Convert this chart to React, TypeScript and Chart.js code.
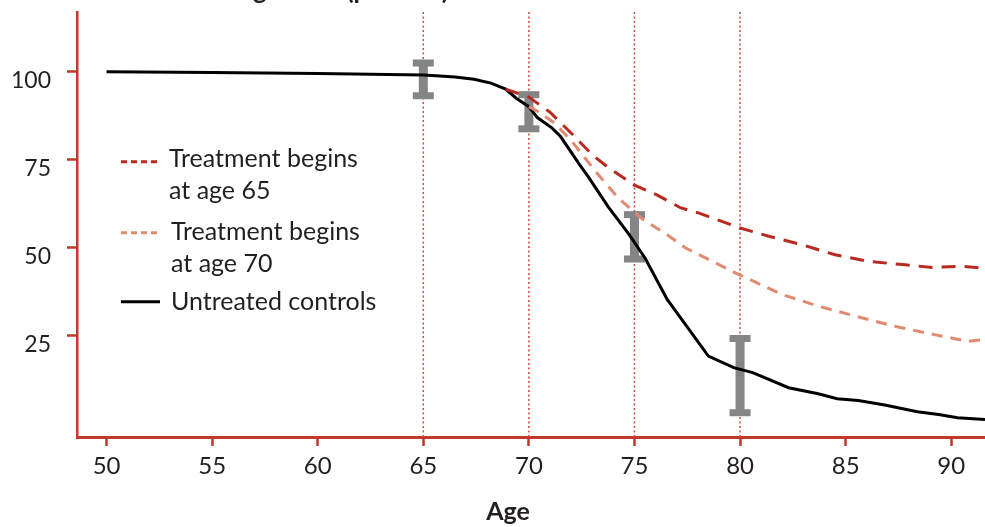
import { useEffect, useRef } from "react";
import { Chart, registerables } from "chart.js";

Chart.register(...registerables);

// ---- data ----
const untreatedAges = [50, 55, 60, 65, 65.6, 66.5, 67.4, 68.2, 68.9, 69.4, 70, 70.4, 71.1, 71.5, 72.4, 72.8, 73.75, 74.75, 75.5, 76.55, 78.5, 79.7, 80.6, 82.3, 83.7, 84.6, 85.6, 86.85, 88.4, 89.4, 90.3, 91.6];
const untreatedValues = [100, 99.8, 99.5, 99.1, 98.9, 98.5, 97.9, 96.8, 95.1, 92.5, 90.1, 87.0, 84.0, 81.6, 73.6, 70.3, 61.7, 53.7, 47.1, 35.3, 19.2, 15.9, 14.5, 10.2, 8.5, 7.1, 6.6, 5.3, 3.4, 2.6, 1.7, 1.2];

const treat65Ages = [68.9, 70, 71, 72.1, 73, 73.8, 75, 76.06, 77.2, 78.03, 80, 81.4, 82.9, 84.5, 86.1, 87.7, 89.1, 90.5, 91.6];
const treat65Values = [95.1, 92.8, 88.5, 82, 76.4, 72.6, 67.8, 65, 61.3, 59.9, 55.6, 53.2, 50.9, 48, 46.1, 45.2, 44.4, 44.7, 44.2];

const treat70Ages = [70, 70.5, 71.2, 72, 73.25, 74.25, 75.4, 76.55, 77.4, 79.8, 82, 83.7, 85.75, 87.3, 89.2, 90.8, 91.6];
const treat70Values = [90.1, 88.5, 85.5, 80.5, 71, 64, 58, 53.7, 50, 42.8, 36.7, 33.4, 30.1, 27.7, 25.3, 23.4, 23.9];

const markerAges = [65, 70, 75, 80];
const errorLow = [93.2, 83.8, 46.8, 3.1];
const errorHigh = [102.5, 93.5, 59.4, 24.2];

const xTicks = [50, 55, 60, 65, 70, 75, 80, 85, 90];
const yTicks = [25, 50, 75, 100];

const seriesLabels = [
  ["Treatment begins", "at age 65"],
  ["Treatment begins", "at age 70"],
  ["Untreated controls"],
];
const xTitle = "Age";
const yTitle = "Percentage alive (percent)";

// ---- styles ----
const AXIS_RED = "#c0392b";
const DOT_RED = "#cf4a3c";
const DARK_RED = "#b8291f";
const SALMON = "#e08a70";
const GRAY = "#858585";
const TEXT = "#231f20";
const FONT = "Lato";

const refPlugin = {
  id: "refLines",
  beforeDatasetsDraw(chart: any) {
    const { ctx, chartArea, scales } = chart;
    const x = scales.x;
    const y = scales.y;
    ctx.save();
    ctx.strokeStyle = DOT_RED;
    ctx.lineWidth = 1.5;
    ctx.setLineDash([2, 2.5]);
    markerAges.forEach((a) => {
      const px = x.getPixelForValue(a);
      ctx.beginPath();
      ctx.moveTo(px, chartArea.top);
      ctx.lineTo(px, chartArea.bottom);
      ctx.stroke();
    });
    ctx.setLineDash([]);
    ctx.fillStyle = GRAY;
    markerAges.forEach((a, i) => {
      const px = x.getPixelForValue(a);
      const yt = y.getPixelForValue(errorHigh[i]);
      const yb = y.getPixelForValue(errorLow[i]);
      ctx.fillRect(px - 4.5, yt, 9, yb - yt);
      ctx.fillRect(px - 10.5, yt - 3.5, 21, 7);
      ctx.fillRect(px - 10.5, yb - 3.5, 21, 7);
    });
    ctx.restore();
  },
};

const textPlugin = {
  id: "customText",
  afterDraw(chart: any) {
    const { ctx } = chart;
    const ds = chart.data.datasets;
    ctx.save();
    // legend
    const items = [
      { sy: 161.7, tx: 169, base: 167, dash: [6, 4] },
      { sy: 232.7, tx: 171, base: 240, dash: [6, 4] },
      { sy: 301.7, tx: 171, base: 310, dash: [] as number[] },
    ];
    ctx.font = `25px ${FONT}`;
    ctx.textAlign = "left";
    ctx.textBaseline = "alphabetic";
    items.forEach((it, i) => {
      ctx.strokeStyle = ds[i].borderColor;
      ctx.lineWidth = 3;
      ctx.setLineDash(it.dash);
      ctx.beginPath();
      ctx.moveTo(121, it.sy);
      ctx.lineTo(160, it.sy);
      ctx.stroke();
      ctx.setLineDash([]);
      ctx.fillStyle = TEXT;
      seriesLabels[i].forEach((line, j) => {
        ctx.fillText(line, it.tx, it.base + j * 32);
      });
    });
    // axis title
    ctx.font = `bold 25px ${FONT}`;
    ctx.textAlign = "center";
    ctx.fillStyle = TEXT;
    ctx.fillText(xTitle, 508, 520);
    // cropped top title
    ctx.font = `bold 26px ${FONT}`;
    ctx.textAlign = "right";
    ctx.fillText(yTitle, 449, -1);
    ctx.restore();
  },
};

export default function App() {
  const ref = useRef<HTMLCanvasElement | null>(null);
  useEffect(() => {
    document.body.style.margin = "0";
    const canvas = ref.current;
    if (!canvas) return;
    const toPts = (xs: number[], ys: number[]) => xs.map((x, i) => ({ x, y: ys[i] }));
    const chart = new Chart(canvas, {
      type: "line",
      data: {
        datasets: [
          {
            label: seriesLabels[0].join(" "),
            data: toPts(treat65Ages, treat65Values),
            borderColor: DARK_RED,
            borderWidth: 3,
            borderDash: [14, 9],
            pointRadius: 0,
            tension: 0,
            fill: false,
          },
          {
            label: seriesLabels[1].join(" "),
            data: toPts(treat70Ages, treat70Values),
            borderColor: SALMON,
            borderWidth: 3,
            borderDash: [11, 8],
            pointRadius: 0,
            tension: 0,
            fill: false,
          },
          {
            label: seriesLabels[2].join(" "),
            data: toPts(untreatedAges, untreatedValues),
            borderColor: "#000000",
            borderWidth: 3,
            pointRadius: 0,
            tension: 0,
            fill: false,
          },
        ],
      },
      options: {
        animation: false,
        responsive: false,
        maintainAspectRatio: false,
        devicePixelRatio: 1,
        layout: { padding: { top: 12, left: 0, right: 0, bottom: 0 } },
        plugins: {
          legend: { display: false },
          tooltip: { enabled: false },
          title: { display: false },
        },
        scales: {
          x: {
            type: "linear",
            min: 48.6,
            max: 91.6,
            afterBuildTicks: (s: any) => {
              s.ticks = xTicks.map((v) => ({ value: v }));
            },
            afterFit: (s: any) => {
              s.height = 90;
              s.paddingLeft = 0;
              s.paddingRight = 0;
            },
            grid: {
              display: true,
              drawOnChartArea: false,
              drawTicks: true,
              tickLength: 9,
              tickColor: AXIS_RED,
              tickWidth: 2.5,
              color: AXIS_RED,
            },
            border: { display: true, color: AXIS_RED, width: 3 },
            ticks: {
              font: { family: FONT, size: 24 },
              color: TEXT,
              padding: 6,
              maxRotation: 0,
              autoSkip: false,
            },
          },
          y: {
            type: "linear",
            min: -3.8,
            max: 117,
            afterBuildTicks: (s: any) => {
              s.ticks = yTicks.map((v) => ({ value: v }));
            },
            afterFit: (s: any) => {
              s.width = 77;
              s.paddingTop = 0;
              s.paddingBottom = 0;
            },
            grid: {
              display: true,
              drawOnChartArea: false,
              drawTicks: true,
              tickLength: 10,
              tickColor: AXIS_RED,
              tickWidth: 2.5,
              color: AXIS_RED,
            },
            border: { display: true, color: AXIS_RED, width: 2.5 },
            ticks: {
              font: { family: FONT, size: 23 },
              color: TEXT,
              padding: 16,
              labelOffset: 9,
            },
          },
        },
      },
      plugins: [refPlugin, textPlugin],
    });
    return () => chart.destroy();
  }, []);
  return (
    <canvas
      ref={ref}
      width={985}
      height={527}
      style={{ display: "block", width: 985, height: 527 }}
    />
  );
}
